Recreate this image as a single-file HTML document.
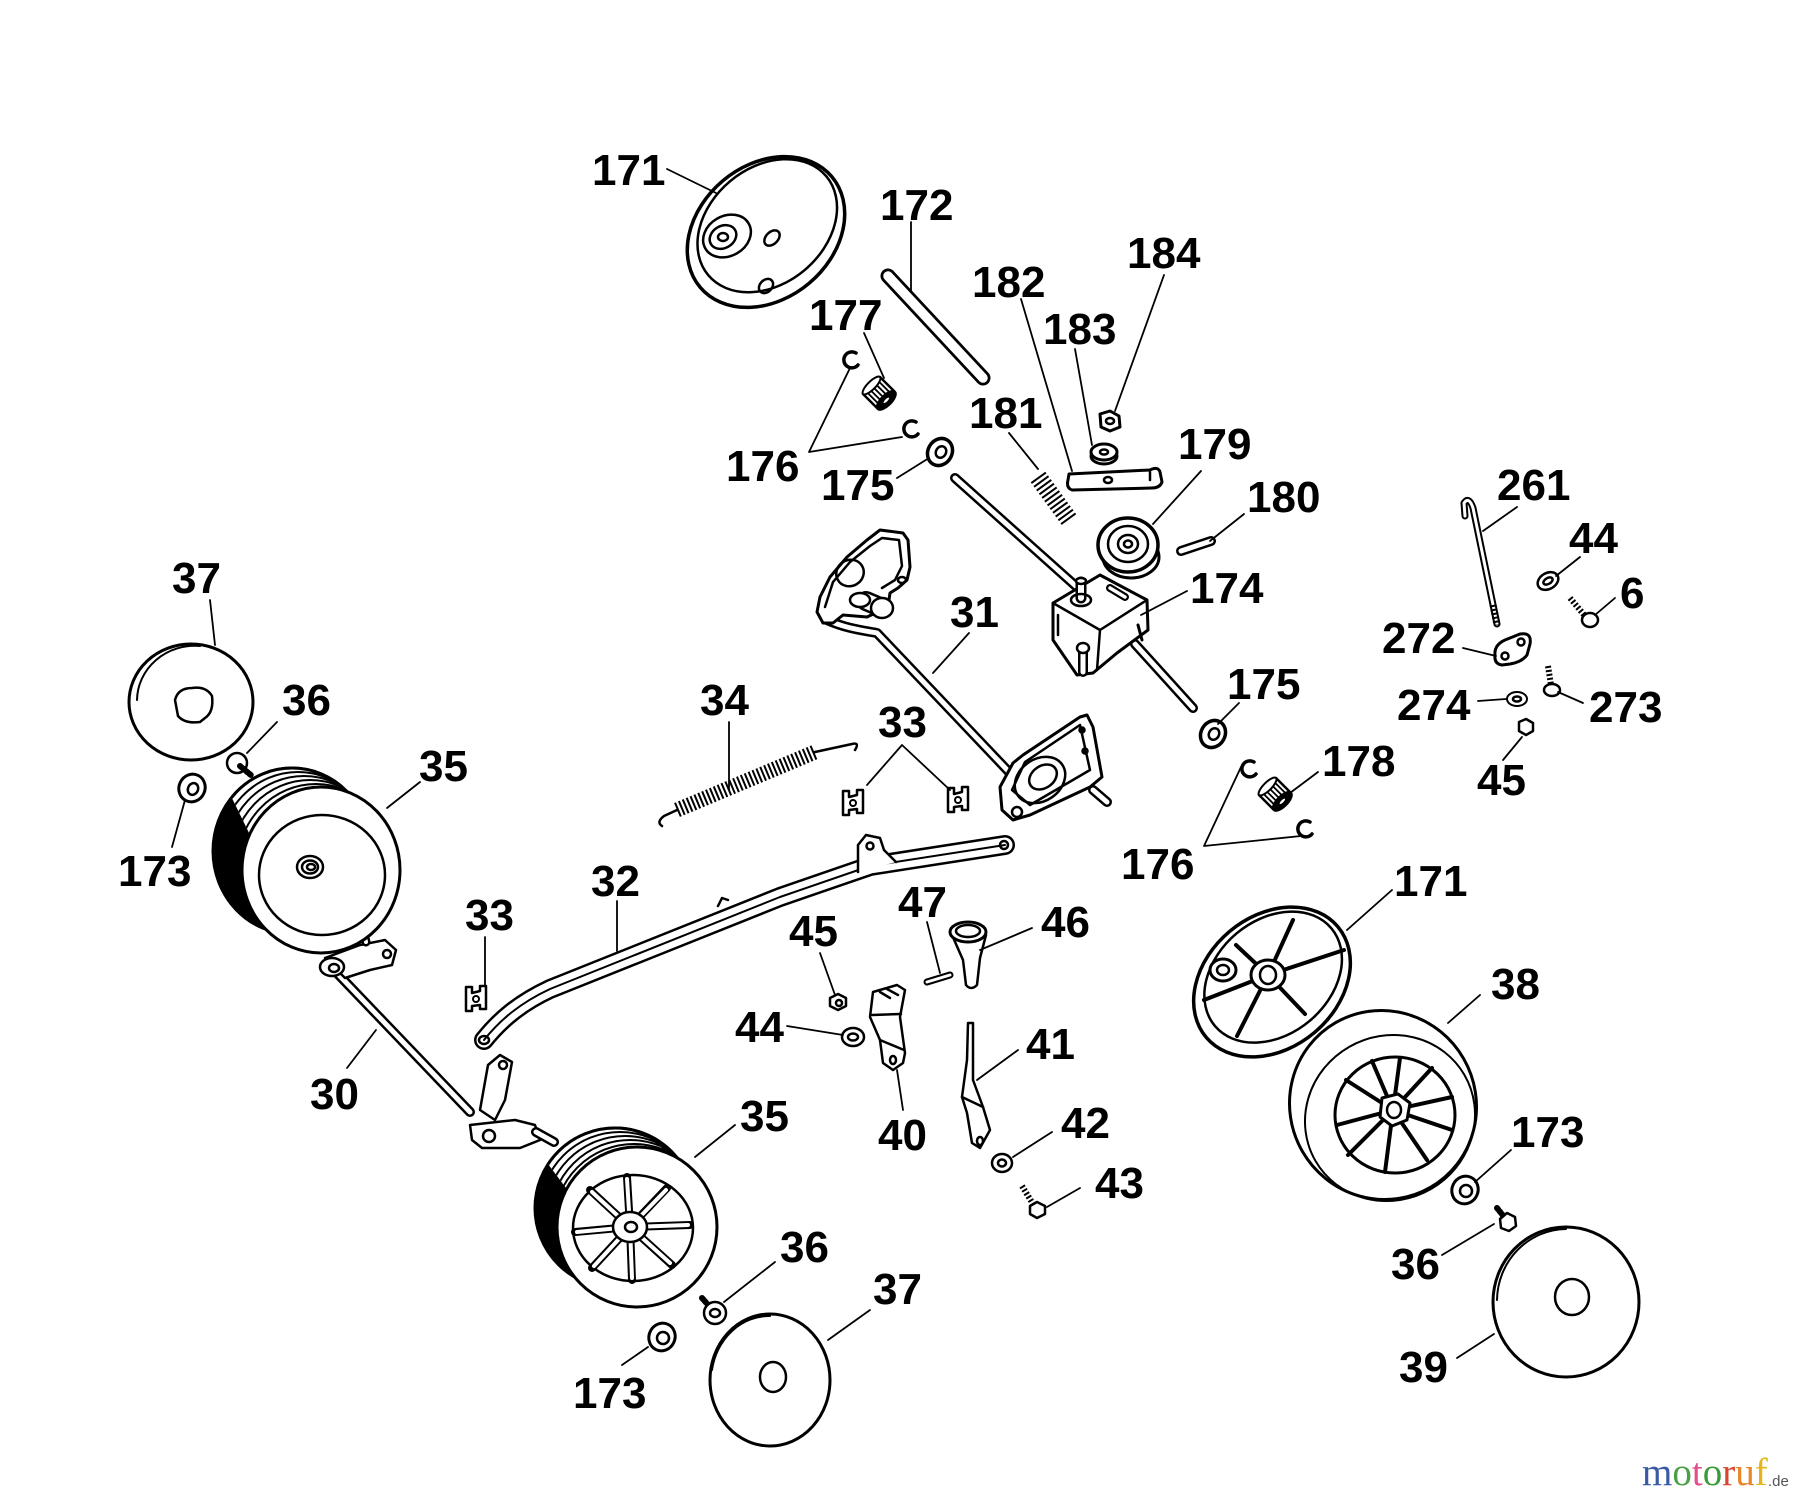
<!DOCTYPE html>
<html><head><meta charset="utf-8"><style>
html,body{margin:0;padding:0;background:#fff;}
svg{display:block;}
text.l{font-family:"Liberation Sans",Arial,sans-serif;font-weight:bold;font-size:44px;fill:#000;stroke:none;}
</style></head><body>
<svg width="1800" height="1501" viewBox="0 0 1800 1501" xmlns="http://www.w3.org/2000/svg">
<defs>
<clipPath id="c35a"><polygon points="250,835 228,790 255,742 332,742 346,800"/></clipPath>
<clipPath id="c35b"><polygon points="575,1200 545,1160 600,1105 652,1105 664,1160"/></clipPath>
<g id="brk"><path d="M-10,-12 L-4,-12 L-4,-6 L4,-8 L4,-13 L10,-13 L10,10 L4,10 L4,6 L-4,7 L-4,12 L-10,12 Z" fill="#fff" stroke="#000" stroke-width="2.5"/><circle r="3" fill="none" stroke="#000" stroke-width="2"/></g>
<g id="gear">
<rect x="-12" y="-12" width="24" height="20" fill="#fff" stroke="#000" stroke-width="2.5"/>
<g stroke="#000" stroke-width="1.8"><line x1="-8" y1="-12" x2="-8" y2="8"/><line x1="-4" y1="-12" x2="-4" y2="8"/><line x1="0" y1="-12" x2="0" y2="8"/><line x1="4" y1="-12" x2="4" y2="8"/><line x1="8" y1="-12" x2="8" y2="8"/></g>
<ellipse cx="0" cy="-12" rx="12" ry="4" fill="#fff" stroke="#000" stroke-width="2"/>
<ellipse cx="0" cy="9" rx="12" ry="5" fill="#000"/>
<ellipse cx="0" cy="9" rx="5" ry="2.5" fill="#fff"/>
</g>
</defs>
<rect width="1800" height="1501" fill="#fff"/>
<g fill="none" stroke="#000" stroke-width="2.5" stroke-linejoin="round" stroke-linecap="round">

<g transform="rotate(-40 766 232)">
<ellipse cx="766" cy="232" rx="86" ry="67" fill="#fff" stroke-width="3.5"/>
<ellipse cx="771" cy="228" rx="77" ry="58"/>
</g>
<ellipse cx="727" cy="236" rx="25" ry="20" transform="rotate(-30 727 236)"/>
<ellipse cx="723" cy="237" rx="14" ry="11" transform="rotate(-30 723 237)"/>
<ellipse cx="723" cy="237" rx="5" ry="4"/>
<ellipse cx="772" cy="238" rx="9" ry="6" transform="rotate(-45 772 238)"/>
<ellipse cx="766" cy="286" rx="8" ry="6" transform="rotate(-45 766 286)"/>

<line x1="888" y1="276" x2="983" y2="378" stroke-width="15"/>
<line x1="888" y1="276" x2="983" y2="378" stroke="#fff" stroke-width="9.5"/>

<path d="M856,353 A8,8 0 1,0 858,365" stroke-width="3.5"/>
<path d="M916,422 A8,8 0 1,0 918,434" stroke-width="3.5"/>
<use href="#gear" transform="translate(880,394) rotate(-45)"/>

<ellipse cx="940" cy="452" rx="12" ry="14" transform="rotate(30 940 452)" fill="#fff" stroke-width="3.5"/>
<ellipse cx="941" cy="452" rx="5" ry="6" transform="rotate(30 941 452)"/>

<line x1="955" y1="478" x2="1078" y2="588" stroke-width="10"/>
<line x1="955" y1="478" x2="1078" y2="588" stroke="#fff" stroke-width="5"/>
<line x1="1135" y1="644" x2="1193" y2="708" stroke-width="10"/>
<line x1="1135" y1="644" x2="1193" y2="708" stroke="#fff" stroke-width="5"/>

<line x1="1038" y1="477" x2="1070" y2="521" stroke-width="18" stroke-dasharray="2 2.6" stroke-linecap="butt"/>

<path d="M1069,474 L1150,470 Q1158,466 1160,472 L1162,482 Q1160,488 1152,488 L1072,490 Q1066,488 1068,480 Z" fill="#fff" stroke-width="3"/>
<ellipse cx="1108" cy="480" rx="4" ry="3"/>
<path d="M1150,472 L1150,480"/>

<ellipse cx="1104" cy="456" rx="13" ry="8" fill="#fff" stroke-width="3"/>
<ellipse cx="1104" cy="452" rx="13" ry="8" fill="#fff" stroke-width="3"/>
<ellipse cx="1104" cy="452" rx="4" ry="2.5"/>
<polygon points="1100,414 1110,411 1119,416 1120,427 1110,431 1101,427" fill="#fff" stroke-width="3"/>
<ellipse cx="1110" cy="421" rx="4" ry="3"/>

<ellipse cx="1131" cy="557" rx="28" ry="21" fill="#fff" stroke-width="3"/>
<ellipse cx="1128" cy="545" rx="30" ry="27" fill="#fff" stroke-width="3.5"/>
<ellipse cx="1128" cy="544" rx="20" ry="18"/>
<ellipse cx="1128" cy="544" rx="10" ry="9"/>
<ellipse cx="1128" cy="544" rx="4" ry="3.5"/>

<line x1="1181" y1="551" x2="1211" y2="541" stroke-width="10"/>
<line x1="1181" y1="551" x2="1211" y2="541" stroke="#fff" stroke-width="5"/>

<polygon points="1053,603 1100,575 1147,600 1148,630 1117,653 1093,673 1077,675 1053,640" fill="#fff" stroke-width="3"/>
<polyline points="1053,603 1100,630 1147,600"/>
<line x1="1100" y1="630" x2="1097" y2="670"/>
<line x1="1058" y1="615" x2="1058" y2="635"/>
<line x1="1081" y1="598" x2="1081" y2="582" stroke-width="11"/>
<line x1="1081" y1="598" x2="1081" y2="582" stroke="#fff" stroke-width="6"/>
<ellipse cx="1081" cy="600" rx="10" ry="6"/>
<ellipse cx="1081" cy="581" rx="5" ry="3" fill="#fff"/>
<line x1="1110" y1="588" x2="1125" y2="597" stroke-width="8"/>
<line x1="1110" y1="588" x2="1125" y2="597" stroke="#fff" stroke-width="3.5"/>
<line x1="1083" y1="650" x2="1083" y2="672" stroke-width="10"/>
<line x1="1083" y1="650" x2="1083" y2="672" stroke="#fff" stroke-width="5"/>
<ellipse cx="1083" cy="648" rx="6" ry="5" fill="#fff"/>
<line x1="1138" y1="625" x2="1142" y2="640" stroke-width="3"/>

<path d="M827,620 C845,628 860,630 877,633 L1010,773" stroke-width="10"/>
<path d="M827,620 C845,628 860,630 877,633 L1010,773" stroke="#fff" stroke-width="5"/>
<path d="M817,612 L820,597 L830,577 L847,557 L867,540 L880,530 L903,533 L908,540 L910,567 L907,580 L898,588 L890,593 L888,607 L867,617 L843,615 L833,623 L823,623 Z" fill="#fff" stroke-width="3"/>
<path d="M825,607 L833,582 L850,562 L870,546 L882,538 L899,540 L902,566 L895,580 L882,588"/>
<ellipse cx="850" cy="573" rx="14" ry="13" transform="rotate(-30 850 573)"/>
<ellipse cx="902" cy="580" rx="4" ry="3"/>
<line x1="866" y1="601" x2="880" y2="607" stroke-width="20"/>
<line x1="866" y1="601" x2="880" y2="607" stroke="#fff" stroke-width="15"/>
<ellipse cx="882" cy="608" rx="11" ry="10" fill="#fff"/>
<ellipse cx="860" cy="600" rx="10" ry="7" fill="#fff"/>
<path d="M1000,787 L1013,763 L1023,755 L1080,717 L1087,715 L1093,727 L1102,777 L1090,787 L1030,815 L1013,820 L1002,810 Z" fill="#fff" stroke-width="3"/>
<path d="M1012,790 L1025,762 L1080,725 L1090,770 L1030,805 Z"/>
<ellipse cx="1040" cy="780" rx="27" ry="21" transform="rotate(-35 1040 780)"/>
<ellipse cx="1043" cy="777" rx="15" ry="11" transform="rotate(-35 1043 777)"/>
<circle cx="1017" cy="812" r="5"/>
<circle cx="1082" cy="730" r="2.5" fill="#000"/>
<circle cx="1085" cy="751" r="2.5" fill="#000"/>
<line x1="1093" y1="790" x2="1107" y2="802" stroke-width="10"/>
<line x1="1093" y1="790" x2="1107" y2="802" stroke="#fff" stroke-width="5"/>

<line x1="677" y1="810" x2="815" y2="752" stroke-width="15" stroke-dasharray="2 2.2" stroke-linecap="butt"/>
<path d="M677,810 L664,816 Q656,822 662,826" stroke-width="2.5"/>
<path d="M815,752 L852,744 Q860,742 855,750" stroke-width="2.5"/>

<use href="#brk" x="853" y="803"/>
<use href="#brk" x="958" y="800"/>
<use href="#brk" x="476" y="999"/>

<path d="M484,1040 C500,1020 520,1003 550,989 L780,897 L870,866 L1005,845" stroke-width="20"/>
<path d="M484,1040 C500,1020 520,1003 550,989 L780,897 L870,866 L1005,845" stroke="#fff" stroke-width="15"/>
<path d="M484,1040 C500,1020 520,1003 550,989 L780,897 L870,866 L1005,845" stroke-width="2"/>
<ellipse cx="484" cy="1040" rx="5" ry="4"/>
<circle cx="1004" cy="845" r="4"/>
<path d="M858,872 L858,845 L866,835 L880,838 L884,850 L896,862" fill="#fff" stroke-width="2.5"/>
<circle cx="870" cy="846" r="3.5"/>
<path d="M718,906 L722,898 L728,900" stroke-width="2.5"/>

<line x1="336" y1="972" x2="470" y2="1112" stroke-width="10"/>
<line x1="336" y1="972" x2="470" y2="1112" stroke="#fff" stroke-width="5"/>
<polygon points="325,958 360,945 385,940 396,950 392,965 370,970 345,978" fill="#fff" stroke-width="2.5"/>
<ellipse cx="332" cy="967" rx="12" ry="9" fill="#fff"/>
<ellipse cx="334" cy="968" rx="5" ry="4" fill="#fff"/>
<circle cx="387" cy="954" r="4"/>
<line x1="366" y1="942" x2="362" y2="925" stroke-width="9"/>
<line x1="366" y1="942" x2="362" y2="925" stroke="#fff" stroke-width="4"/>
<polygon points="480,1110 488,1065 500,1055 512,1062 505,1100 495,1120" fill="#fff" stroke-width="2.5"/>
<circle cx="503" cy="1065" r="4"/>
<polygon points="470,1125 515,1120 535,1125 540,1140 520,1148 482,1148 472,1140" fill="#fff" stroke-width="2.5"/>
<circle cx="489" cy="1136" r="6"/>
<line x1="536" y1="1132" x2="554" y2="1142" stroke-width="10"/>
<line x1="536" y1="1132" x2="554" y2="1142" stroke="#fff" stroke-width="5"/>

<ellipse cx="292" cy="851" rx="79" ry="83" fill="#000" stroke-width="3"/>
<g clip-path="url(#c35a)">
<ellipse cx="292" cy="851" rx="79" ry="83" fill="#fff" stroke-width="3"/>
<ellipse cx="298" cy="855" rx="79" ry="83" stroke-width="2"/>
<ellipse cx="304" cy="859" rx="79" ry="83" stroke-width="2"/>
<ellipse cx="310" cy="863" rx="79" ry="83" stroke-width="2"/>
<ellipse cx="316" cy="867" rx="79" ry="83" stroke-width="2"/>
</g>
<ellipse cx="321" cy="870" rx="79" ry="83" fill="#fff" stroke-width="3"/>
<ellipse cx="322" cy="875" rx="63" ry="60"/>
<ellipse cx="310" cy="867" rx="13" ry="11"/>
<ellipse cx="310" cy="867" rx="8" ry="6.5"/>
<ellipse cx="311" cy="867" rx="4" ry="3"/>

<ellipse cx="191" cy="702" rx="62" ry="58" fill="#fff" stroke-width="3"/>
<path d="M137,700 A58,55 0 0,1 200,646" stroke-width="2"/>
<path d="M175,700 Q178,688 192,688 Q206,686 212,696 Q214,712 205,718 L200,722 Q185,724 178,716 Z"/>
<circle cx="237" cy="763" r="10" fill="#fff"/>
<line x1="240" y1="766" x2="252" y2="776" stroke-width="6" stroke-dasharray="2 2"/>
<ellipse cx="192" cy="788" rx="13" ry="14" transform="rotate(25 192 788)" fill="#fff" stroke-width="3"/>
<ellipse cx="193" cy="789" rx="5" ry="6" transform="rotate(25 193 789)"/>

<ellipse cx="615" cy="1208" rx="80" ry="80" fill="#000" stroke-width="3"/>
<g clip-path="url(#c35b)">
<ellipse cx="615" cy="1208" rx="80" ry="80" fill="#fff" stroke-width="3"/>
<ellipse cx="620" cy="1212" rx="80" ry="80" stroke-width="2"/>
<ellipse cx="625" cy="1216" rx="80" ry="80" stroke-width="2"/>
<ellipse cx="630" cy="1220" rx="80" ry="80" stroke-width="2"/>
<ellipse cx="634" cy="1224" rx="80" ry="80" stroke-width="2"/>
</g>
<ellipse cx="637" cy="1227" rx="80" ry="80" fill="#fff" stroke-width="3"/>
<ellipse cx="633" cy="1228" rx="60" ry="53" stroke-width="2.5"/>
<g stroke-width="8">
<line x1="630" y1="1227" x2="627" y2="1177"/><line x1="630" y1="1227" x2="667" y2="1188"/>
<line x1="630" y1="1227" x2="690" y2="1225"/><line x1="630" y1="1227" x2="672" y2="1265"/>
<line x1="630" y1="1227" x2="632" y2="1280"/><line x1="630" y1="1227" x2="592" y2="1268"/>
<line x1="630" y1="1227" x2="575" y2="1232"/><line x1="630" y1="1227" x2="590" y2="1190"/>
</g>
<g stroke="#fff" stroke-width="4">
<line x1="630" y1="1227" x2="627" y2="1179"/><line x1="630" y1="1227" x2="666" y2="1190"/>
<line x1="630" y1="1227" x2="688" y2="1225"/><line x1="630" y1="1227" x2="670" y2="1263"/>
<line x1="630" y1="1227" x2="632" y2="1278"/><line x1="630" y1="1227" x2="594" y2="1266"/>
<line x1="630" y1="1227" x2="577" y2="1232"/><line x1="630" y1="1227" x2="592" y2="1192"/>
</g>
<ellipse cx="630" cy="1227" rx="17" ry="15" fill="#fff"/>
<ellipse cx="631" cy="1227" rx="6" ry="5"/>

<line x1="702" y1="1298" x2="711" y2="1308" stroke-width="6" stroke-dasharray="2 2"/>
<circle cx="715" cy="1313" r="11" fill="#fff"/>
<ellipse cx="715" cy="1313" rx="5" ry="4"/>
<ellipse cx="662" cy="1337" rx="13" ry="14" transform="rotate(25 662 1337)" fill="#fff" stroke-width="3"/>
<ellipse cx="663" cy="1338" rx="6" ry="6" transform="rotate(25 663 1338)"/>
<ellipse cx="770" cy="1380" rx="60" ry="66" fill="#fff" stroke-width="3"/>
<path d="M712,1370 A58,64 0 0,1 770,1316" stroke-width="2"/>
<ellipse cx="773" cy="1377" rx="13" ry="15"/>

<g transform="rotate(-40 1272 982)">
<ellipse cx="1272" cy="982" rx="86" ry="66" fill="#fff" stroke-width="3.5"/>
<ellipse cx="1276" cy="979" rx="76" ry="57"/>
</g>
<g stroke-width="4">
<line x1="1268" y1="975" x2="1293" y2="920"/>
<line x1="1268" y1="975" x2="1344" y2="950"/>
<line x1="1268" y1="975" x2="1305" y2="1014"/>
<line x1="1268" y1="975" x2="1237" y2="1036"/>
<line x1="1268" y1="975" x2="1204" y2="1000"/>
<line x1="1268" y1="975" x2="1236" y2="945"/>
</g>
<ellipse cx="1268" cy="975" rx="17" ry="15" fill="#fff" stroke-width="3"/>
<ellipse cx="1268" cy="975" rx="8" ry="9"/>
<ellipse cx="1223" cy="970" rx="13" ry="11" fill="#fff" stroke-width="3"/>
<ellipse cx="1223" cy="970" rx="6" ry="5"/>

<ellipse cx="1383" cy="1105" rx="93" ry="95" transform="rotate(-30 1383 1105)" fill="#fff" stroke-width="3"/>
<ellipse cx="1390" cy="1118" rx="86" ry="82" transform="rotate(-30 1390 1118)" stroke-width="2"/>
<ellipse cx="1395" cy="1115" rx="60" ry="58" stroke-width="3"/>
<g stroke-width="4">
<line x1="1393" y1="1110" x2="1400" y2="1058"/><line x1="1393" y1="1110" x2="1432" y2="1068"/>
<line x1="1393" y1="1110" x2="1452" y2="1097"/><line x1="1393" y1="1110" x2="1452" y2="1130"/>
<line x1="1393" y1="1110" x2="1427" y2="1160"/><line x1="1393" y1="1110" x2="1385" y2="1172"/>
<line x1="1393" y1="1110" x2="1348" y2="1155"/><line x1="1393" y1="1110" x2="1337" y2="1125"/>
<line x1="1393" y1="1110" x2="1346" y2="1080"/><line x1="1393" y1="1110" x2="1372" y2="1061"/>
</g>
<polygon points="1382,1098 1398,1094 1410,1103 1407,1120 1392,1126 1380,1117" fill="#fff" stroke-width="3"/>
<ellipse cx="1394" cy="1110" rx="7" ry="8"/>

<ellipse cx="1465" cy="1190" rx="13" ry="14" transform="rotate(25 1465 1190)" fill="#fff" stroke-width="3"/>
<ellipse cx="1466" cy="1191" rx="6" ry="6"/>
<line x1="1497" y1="1208" x2="1505" y2="1218" stroke-width="6" stroke-dasharray="2 2"/>
<polygon points="1500,1219 1507,1213 1515,1217 1516,1226 1509,1231 1501,1228" fill="#fff" stroke-width="2.5"/>
<ellipse cx="1566" cy="1302" rx="73" ry="75" fill="#fff" stroke-width="3"/>
<path d="M1497,1300 A70,72 0 0,1 1566,1229" stroke-width="2"/>
<ellipse cx="1572" cy="1297" rx="17" ry="18"/>

<ellipse cx="1213" cy="734" rx="12" ry="14" transform="rotate(30 1213 734)" fill="#fff" stroke-width="3.5"/>
<ellipse cx="1214" cy="734" rx="5" ry="6" transform="rotate(30 1214 734)"/>
<path d="M1254,762 A8,8 0 1,0 1256,774" stroke-width="3.5"/>
<path d="M1310,822 A8,8 0 1,0 1312,834" stroke-width="3.5"/>
<use href="#gear" transform="translate(1276,795) rotate(-45)"/>

<path d="M1497,624 L1473,508 Q1469,496 1464,503 L1465,516" stroke-width="7"/>
<path d="M1497,624 L1473,508 Q1469,496 1464,503 L1465,516" stroke="#fff" stroke-width="3"/>
<line x1="1493" y1="605" x2="1497" y2="625" stroke-width="7" stroke-dasharray="2 2" stroke-linecap="butt"/>
<path d="M1495,655 Q1494,645 1505,640 L1520,634 Q1532,632 1530,644 L1527,655 Q1522,662 1510,664 L1502,665 Q1494,664 1495,655 Z" fill="#fff" stroke-width="3"/>
<circle cx="1521" cy="642" r="3.5"/>
<circle cx="1505" cy="656" r="3.5"/>
<ellipse cx="1548" cy="581" rx="11" ry="8" transform="rotate(-30 1548 581)" fill="#fff" stroke-width="2.5"/>
<ellipse cx="1548" cy="581" rx="5" ry="3" transform="rotate(-30 1548 581)"/>
<line x1="1570" y1="598" x2="1585" y2="616" stroke-width="6" stroke-dasharray="2 2" stroke-linecap="butt"/>
<ellipse cx="1590" cy="620" rx="8" ry="7" fill="#fff" stroke-width="2.5"/>
<line x1="1548" y1="666" x2="1551" y2="685" stroke-width="6" stroke-dasharray="2 2" stroke-linecap="butt"/>
<ellipse cx="1552" cy="690" rx="8" ry="6" fill="#fff" stroke-width="2.5"/>
<ellipse cx="1517" cy="699" rx="10" ry="7" fill="#fff" stroke-width="2"/>
<ellipse cx="1517" cy="699" rx="4" ry="2.5"/>
<polygon points="1519,722 1526,719 1533,723 1533,731 1526,735 1519,731" fill="#fff" stroke-width="2.5"/>

<path d="M952,935 L963,960 L966,985 Q971,991 977,985 L980,958 L986,935" fill="#fff" stroke-width="2.5"/>
<ellipse cx="968" cy="932" rx="18" ry="10" fill="#fff" stroke-width="3"/>
<ellipse cx="968" cy="931" rx="12" ry="6"/>
<line x1="927" y1="982" x2="950" y2="975" stroke-width="7"/>
<line x1="927" y1="982" x2="950" y2="975" stroke="#fff" stroke-width="3"/>
<polygon points="830,998 838,994 846,998 846,1006 838,1010 830,1006" fill="#fff" stroke-width="2.5"/>
<circle cx="839" cy="1003" r="3"/>
<ellipse cx="853" cy="1037" rx="11" ry="9" fill="#fff" stroke-width="2.5"/>
<ellipse cx="853" cy="1037" rx="5" ry="3.5"/>
<polygon points="873,992 897,985 905,990 900,1017 905,1053 903,1063 893,1070 883,1063 880,1040 870,1017" fill="#fff" stroke-width="2.5"/>
<line x1="872" y1="1015" x2="901" y2="1014"/>
<line x1="880" y1="1040" x2="904" y2="1050"/>
<path d="M880,992 L890,998 M887,989 L898,995"/>
<ellipse cx="893" cy="1060" rx="3" ry="4"/>
<polygon points="968,1023 973,1023 973,1080 983,1107 990,1130 980,1148 972,1143 967,1113 962,1097 967,1060" fill="#fff" stroke-width="2.5"/>
<line x1="962" y1="1097" x2="983" y2="1107"/>
<ellipse cx="980" cy="1141" rx="3" ry="4"/>
<ellipse cx="1002" cy="1163" rx="10" ry="9" fill="#fff" stroke-width="2.5"/>
<ellipse cx="1002" cy="1163" rx="4" ry="3.5"/>
<line x1="1022" y1="1186" x2="1033" y2="1204" stroke-width="6" stroke-dasharray="2 2" stroke-linecap="butt"/>
<polygon points="1030,1206 1037,1202 1045,1206 1045,1214 1037,1218 1030,1214" fill="#fff" stroke-width="2.5"/>

<g stroke-width="1.8">
<line x1="667" y1="169" x2="716" y2="193"/>
<line x1="911" y1="222" x2="911" y2="292"/>
<line x1="864" y1="333" x2="884" y2="378"/>
<polyline points="850,368 809,452 902,437"/>
<line x1="897" y1="478" x2="929" y2="458"/>
<line x1="1021" y1="299" x2="1072" y2="471"/>
<line x1="1075" y1="349" x2="1092" y2="445"/>
<line x1="1164" y1="275" x2="1115" y2="411"/>
<line x1="1009" y1="433" x2="1038" y2="469"/>
<line x1="1201" y1="471" x2="1153" y2="524"/>
<line x1="1244" y1="514" x2="1210" y2="541"/>
<line x1="1187" y1="591" x2="1141" y2="615"/>
<line x1="1517" y1="507" x2="1483" y2="531"/>
<line x1="1580" y1="557" x2="1556" y2="576"/>
<line x1="1615" y1="598" x2="1595" y2="615"/>
<line x1="1463" y1="648" x2="1496" y2="656"/>
<line x1="1478" y1="701" x2="1506" y2="699"/>
<line x1="1583" y1="703" x2="1558" y2="692"/>
<line x1="1503" y1="760" x2="1522" y2="737"/>
<line x1="1239" y1="703" x2="1218" y2="724"/>
<line x1="1318" y1="772" x2="1290" y2="793"/>
<polyline points="1241,767 1204,846 1301,836"/>
<line x1="1392" y1="890" x2="1347" y2="930"/>
<line x1="1480" y1="995" x2="1448" y2="1023"/>
<line x1="1511" y1="1150" x2="1475" y2="1182"/>
<line x1="1442" y1="1255" x2="1494" y2="1224"/>
<line x1="1457" y1="1358" x2="1494" y2="1334"/>
<line x1="210" y1="600" x2="215" y2="645"/>
<line x1="277" y1="722" x2="247" y2="753"/>
<line x1="420" y1="782" x2="387" y2="808"/>
<line x1="172" y1="847" x2="185" y2="800"/>
<line x1="729" y1="722" x2="729" y2="790"/>
<polyline points="867,785 902,745 950,790"/>
<line x1="969" y1="633" x2="933" y2="673"/>
<line x1="617" y1="901" x2="617" y2="951"/>
<line x1="485" y1="937" x2="485" y2="985"/>
<line x1="347" y1="1068" x2="376" y2="1030"/>
<line x1="927" y1="922" x2="940" y2="973"/>
<line x1="1032" y1="928" x2="980" y2="950"/>
<line x1="820" y1="953" x2="835" y2="995"/>
<line x1="787" y1="1026" x2="843" y2="1035"/>
<line x1="903" y1="1110" x2="897" y2="1070"/>
<line x1="1018" y1="1050" x2="977" y2="1080"/>
<line x1="1052" y1="1132" x2="1013" y2="1157"/>
<line x1="1080" y1="1188" x2="1047" y2="1207"/>
<line x1="735" y1="1125" x2="695" y2="1157"/>
<line x1="775" y1="1262" x2="724" y2="1302"/>
<line x1="870" y1="1310" x2="828" y2="1340"/>
<line x1="622" y1="1365" x2="648" y2="1347"/>
</g>
</g>

<text class="l" x="592" y="185">171</text>
<text class="l" x="880" y="220">172</text>
<text class="l" x="809" y="330">177</text>
<text class="l" x="726" y="481">176</text>
<text class="l" x="821" y="500">175</text>
<text class="l" x="972" y="297">182</text>
<text class="l" x="1043" y="344">183</text>
<text class="l" x="1127" y="268">184</text>
<text class="l" x="969" y="428">181</text>
<text class="l" x="1178" y="459">179</text>
<text class="l" x="1247" y="512">180</text>
<text class="l" x="1190" y="603">174</text>
<text class="l" x="1497" y="500">261</text>
<text class="l" x="1569" y="553">44</text>
<text class="l" x="1620" y="608">6</text>
<text class="l" x="1382" y="653">272</text>
<text class="l" x="1397" y="720">274</text>
<text class="l" x="1589" y="722">273</text>
<text class="l" x="1477" y="795">45</text>
<text class="l" x="1227" y="699">175</text>
<text class="l" x="1322" y="776">178</text>
<text class="l" x="1121" y="879">176</text>
<text class="l" x="1394" y="896">171</text>
<text class="l" x="1491" y="999">38</text>
<text class="l" x="1511" y="1147">173</text>
<text class="l" x="1391" y="1279">36</text>
<text class="l" x="1399" y="1382">39</text>
<text class="l" x="172" y="593">37</text>
<text class="l" x="282" y="715">36</text>
<text class="l" x="419" y="781">35</text>
<text class="l" x="118" y="886">173</text>
<text class="l" x="700" y="715">34</text>
<text class="l" x="878" y="737">33</text>
<text class="l" x="950" y="627">31</text>
<text class="l" x="591" y="896">32</text>
<text class="l" x="465" y="930">33</text>
<text class="l" x="310" y="1109">30</text>
<text class="l" x="898" y="917">47</text>
<text class="l" x="1041" y="937">46</text>
<text class="l" x="789" y="946">45</text>
<text class="l" x="735" y="1042">44</text>
<text class="l" x="878" y="1150">40</text>
<text class="l" x="1026" y="1059">41</text>
<text class="l" x="1061" y="1138">42</text>
<text class="l" x="1095" y="1198">43</text>
<text class="l" x="740" y="1131">35</text>
<text class="l" x="780" y="1262">36</text>
<text class="l" x="873" y="1304">37</text>
<text class="l" x="573" y="1408">173</text>

<text x="1642" y="1485" style="font-family:'Liberation Serif',serif;font-size:39px;"><tspan fill="#3b5aa6">m</tspan><tspan fill="#4aa046">o</tspan><tspan fill="#e0508a">t</tspan><tspan fill="#3c9a3c">o</tspan><tspan fill="#d8452a">r</tspan><tspan fill="#e8862a">u</tspan><tspan fill="#e6b415">f</tspan></text>
<text x="1768" y="1486" style="font-family:'Liberation Sans',sans-serif;font-size:15px;" fill="#555">.de</text>
</svg>
</body></html>
